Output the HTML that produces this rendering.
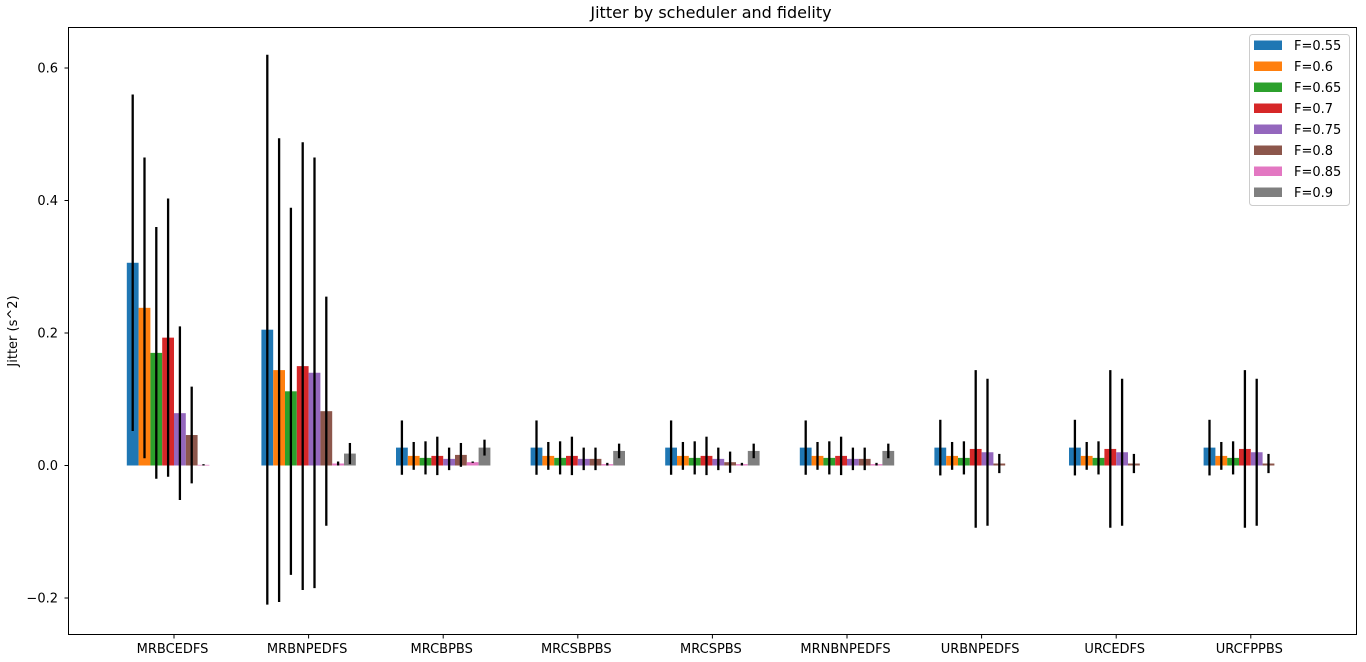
<!DOCTYPE html>
<html><head><meta charset="utf-8"><style>
html,body{margin:0;padding:0;background:#fff;}
svg{display:block;font-family:"DejaVu Sans","Liberation Sans",sans-serif;}
</style></head><body>
<svg id="chart" width="1366" height="662" xmlns="http://www.w3.org/2000/svg">
<text x="711" y="18" font-size="16" text-anchor="middle">Jitter by scheduler and fidelity</text>
<text transform="translate(17,331) rotate(-90)" font-size="13" text-anchor="middle">Jitter (s^2)</text>
<g id="plot"></g>
<rect x="68.5" y="27.5" width="1288" height="607" fill="none" stroke="#000" stroke-width="1"/>
<g id="legend"></g>
</svg>
<script>
const categories = ["MRBCEDFS","MRBNPEDFS","MRCBPBS","MRCSBPBS","MRCSPBS","MRNBNPEDFS","URBNPEDFS","URCEDFS","URCFPPBS"];
const seriesNames = ["F=0.55","F=0.6","F=0.65","F=0.7","F=0.75","F=0.8","F=0.85","F=0.9"];
const colors = ["#1f77b4","#ff7f0e","#2ca02c","#d62728","#9467bd","#8c564b","#e377c2","#7f7f7f"];
const yTicks = [-0.2,0.0,0.2,0.4,0.6];
const yTickLabels = ["\u22120.2","0.0","0.2","0.4","0.6"];
// values[series][category]
const means = [
 [0.306,0.205,0.027,0.027,0.027,0.027,0.027,0.027,0.027],
 [0.238,0.144,0.0145,0.0145,0.0145,0.0145,0.0145,0.0145,0.0145],
 [0.170,0.112,0.0115,0.0115,0.0115,0.0115,0.0115,0.0115,0.0115],
 [0.193,0.150,0.0145,0.0145,0.0145,0.0145,0.025,0.025,0.025],
 [0.079,0.140,0.010,0.010,0.010,0.010,0.020,0.020,0.020],
 [0.046,0.082,0.016,0.010,0.005,0.010,0.003,0.003,0.003],
 [0.001,0.003,0.005,0.002,0.002,0.002,0.000,0.000,0.000],
 [0.000,0.018,0.027,0.022,0.022,0.022,0.000,0.000,0.000]
];
const errs = [
 [0.254,0.415,0.041,0.041,0.041,0.041,0.042,0.042,0.042],
 [0.227,0.350,0.021,0.021,0.021,0.021,0.021,0.021,0.021],
 [0.190,0.277,0.025,0.025,0.025,0.025,0.025,0.025,0.025],
 [0.210,0.338,0.029,0.029,0.029,0.029,0.119,0.119,0.119],
 [0.131,0.325,0.017,0.017,0.017,0.017,0.111,0.111,0.111],
 [0.073,0.173,0.018,0.017,0.016,0.017,0.0145,0.0145,0.0145],
 [0.001,0.003,0.001,0.002,0.002,0.002,0.000,0.000,0.000],
 [0.000,0.016,0.012,0.011,0.011,0.011,0.000,0.000,0.000]
];
const NS="http://www.w3.org/2000/svg";
const plot=document.getElementById('plot');
const svg=document.getElementById('chart');
function yScale(v){return 465.5 - v*662.5;}
function xCenter(i){return 174 + i*134.6;}
const bw=11.8;
function mk(tag,attrs,parent){const e=document.createElementNS(NS,tag);for(const k in attrs)e.setAttribute(k,attrs[k]);parent.appendChild(e);return e;}
yTicks.forEach((t,i)=>{
 const y=yScale(t);
 const tk=mk('line',{x1:64.5,x2:68.5,y1:y,y2:y,stroke:'#000'},svg);
 
 
 const tx=mk('text',{x:58,y:y+4.5,'font-size':13,'text-anchor':'end'},svg);
 
 
 tx.textContent=yTickLabels[i];
});
means.forEach((ser,s)=>{
 ser.forEach((v,c)=>{
  if(v===0)return;
  const x=xCenter(c)-4*bw+s*bw;
  const y0=yScale(0),y1=yScale(v);
  const r=mk('rect',{x:x,y:Math.min(y0,y1),width:bw,height:Math.max(Math.abs(y0-y1),0.6),fill:colors[s]},plot);
  
  
 });
});
means.forEach((ser,s)=>{
 ser.forEach((v,c)=>{
  const e=errs[s][c];
  if(e<=0)return;
  const xc=xCenter(c)-4*bw+s*bw+bw/2;
  const l=mk('line',{x1:xc,x2:xc,y1:yScale(v+e),y2:yScale(v-e),stroke:'#000','stroke-width':2.3},plot);
  
  
 });
});
categories.forEach((cat,i)=>{
 const x=xCenter(i);
 const tk=mk('line',{x1:x,x2:x,y1:634.5,y2:638.5,stroke:'#000'},svg);
 
 
 const tx=mk('text',{x:x-1.5,y:653,'font-size':13,'text-anchor':'middle'},svg);
 
 
 tx.textContent=cat;
});
const lg=document.getElementById('legend');
const box=mk('rect',{x:1249.5,y:34.5,width:100,height:171,rx:3,fill:'#fff','fill-opacity':0.8,stroke:'#ccc'},lg);


seriesNames.forEach((n,i)=>{
 const cy=45+i*21;
 const sw=mk('rect',{x:1254,y:cy-4.5,width:28,height:9.5,fill:colors[i]},lg);
 
 
 const t=mk('text',{x:1294,y:cy+5,'font-size':13},lg);
 
 
 t.textContent=n;
});
</script>
</body></html>
